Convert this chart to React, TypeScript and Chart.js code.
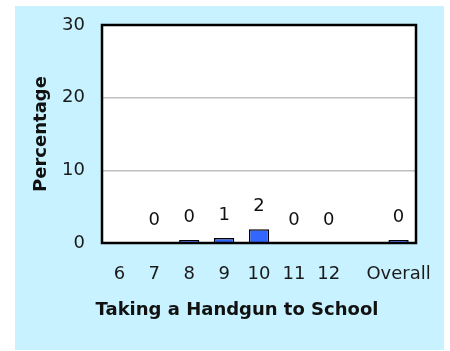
import React, { useEffect, useRef } from "react";
import { Chart, registerables } from "chart.js";

Chart.register(...registerables);

const categories = ["6", "7", "8", "9", "10", "11", "12", "", "Overall"];
const values: (number | null)[] = [null, 0, 0.4, 0.7, 1.9, 0, 0, null, 0.4];
const yTicks = [0, 10, 20, 30];
const yTitle = "Percentage";
const xTitle = "Taking a Handgun to School";

const FONT = "'DejaVu Sans', sans-serif";

const customPlugin = {
  id: "custom",
  beforeDraw(chart: any) {
    const { ctx, chartArea: a } = chart;
    ctx.save();
    ctx.fillStyle = "#ffffff";
    ctx.fillRect(a.left, a.top, a.right - a.left, a.bottom - a.top);
    ctx.restore();
  },
  afterDatasetsDraw(chart: any) {
    const { ctx, chartArea: a } = chart;
    ctx.save();
    ctx.strokeStyle = "#000000";
    ctx.lineWidth = 2.5;
    ctx.strokeRect(a.left, a.top, a.right - a.left, a.bottom - a.top);

    const meta = chart.getDatasetMeta(0);
    ctx.fillStyle = "#111111";
    ctx.font = `18px ${FONT}`;
    ctx.textAlign = "center";
    ctx.textBaseline = "bottom";
    meta.data.forEach((bar: any, i: number) => {
      const v = values[i];
      if (v === null || v === undefined) return;
      ctx.fillText(String(Math.round(v)), bar.x, bar.y - 14);
    });

    ctx.font = `bold 18px ${FONT}`;
    ctx.textBaseline = "middle";
    ctx.fillStyle = "#111111";
    ctx.fillText(xTitle, 222, 304);
    ctx.restore();
  },
};

export default function App() {
  const ref = useRef<HTMLCanvasElement>(null);
  useEffect(() => {
    if (!ref.current) return;
    const chart = new Chart(ref.current, {
      type: "bar",
      data: {
        labels: categories,
        datasets: [
          {
            data: values as any,
            backgroundColor: "#3366ff",
            borderColor: "#000000",
            borderWidth: 1.5,
            categoryPercentage: 1,
            barPercentage: 0.58,
          },
        ],
      },
      options: {
        responsive: false,
        animation: false,
        devicePixelRatio: 1,
        layout: { padding: { top: 19, right: 28, left: 0, bottom: 0 } },
        plugins: {
          legend: { display: false },
          tooltip: { enabled: false },
        },
        scales: {
          x: {
            grid: { display: false, drawTicks: false },
            border: { display: false },
            ticks: {
              color: "#1a1a1a",
              font: { family: FONT, size: 18 },
              padding: 21,
              maxRotation: 0,
              autoSkip: false,
            },
            afterFit(scale: any) {
              scale.height = 107;
              scale.paddingLeft = 0;
              scale.paddingRight = 0;
            },
          },
          y: {
            min: yTicks[0],
            max: yTicks[yTicks.length - 1],
            afterBuildTicks(scale: any) {
              scale.ticks = yTicks.map((v) => ({ value: v }));
            },
            grid: {
              drawTicks: false,
              lineWidth: 1.5,
              color: (c: any) =>
                c.tick && (c.tick.value === 10 || c.tick.value === 20)
                  ? "#c0c0c0"
                  : "rgba(0,0,0,0)",
            },
            border: { display: false },
            ticks: {
              color: "#1a1a1a",
              font: { family: FONT, size: 18 },
              padding: 17,
            },
            title: {
              display: true,
              text: yTitle,
              color: "#111111",
              font: { family: FONT, size: 18, weight: "bold" },
              padding: { top: 16, bottom: 0 },
            },
            afterFit(scale: any) {
              scale.width = 87;
              scale.paddingTop = 0;
              scale.paddingBottom = 0;
            },
          },
        },
      },
      plugins: [customPlugin],
    });
    return () => chart.destroy();
  }, []);

  return (
    <div
      style={{
        position: "absolute",
        left: 15,
        top: 6,
        width: 429,
        height: 344,
        background: "#c8f2ff",
      }}
    >
      <canvas ref={ref} width={429} height={344} style={{ display: "block" }} />
    </div>
  );
}
